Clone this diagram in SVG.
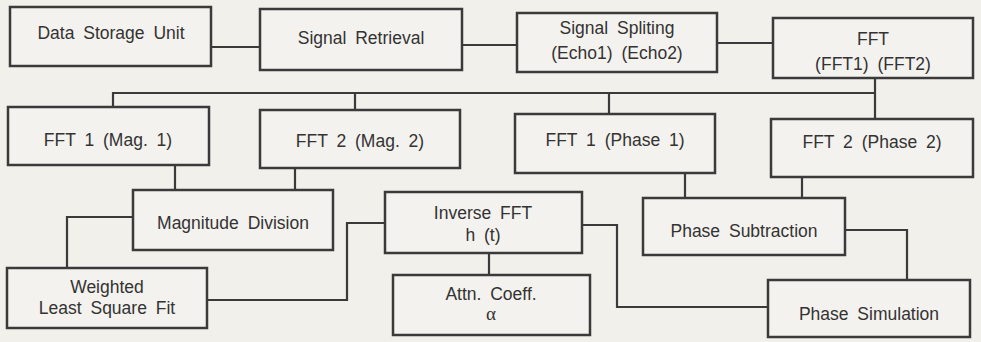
<svg xmlns="http://www.w3.org/2000/svg" width="981" height="342" viewBox="0 0 981 342">
<style>
.box{fill:#f4f2ee;stroke:#3a3a3a;stroke-width:2.5}
.c{fill:none;stroke:#3a3a3a;stroke-width:2.2}
text{font-family:"Liberation Sans",Arial,sans-serif;font-size:17.5px;fill:#333;text-anchor:middle;word-spacing:4px}
.a{font-family:"Liberation Serif","DejaVu Serif",serif;font-size:19px}
</style>
<rect width="981" height="342" fill="#f2f0eb"/>
<g id="connectors">
<path class="c" d="M211,47 H260"/>
<path class="c" d="M462,45 H517"/>
<path class="c" d="M717,43 H773"/>
<path class="c" d="M875,78 V119"/>
<path class="c" d="M113,107 V93 H875"/>
<path class="c" d="M355,93 V110"/>
<path class="c" d="M609,93 V114"/>
<path class="c" d="M175,165 V190"/>
<path class="c" d="M295,168 V192"/>
<path class="c" d="M685,173 V198"/>
<path class="c" d="M802,177 V198"/>
<path class="c" d="M133,217 H67 V268"/>
<path class="c" d="M207,300 H347 V223 H385"/>
<path class="c" d="M489,253 V275"/>
<path class="c" d="M582,225 H617 V307 H768"/>
<path class="c" d="M845,230 H907 V280"/>
</g>
<g id="dsu"><rect class="box" x="10" y="7" width="201" height="59"/><text x="111" y="39">Data Storage Unit</text></g>
<g id="sr"><rect class="box" x="260" y="9" width="202" height="61"/><text x="361" y="44">Signal Retrieval</text></g>
<g id="ss"><rect class="box" x="517" y="13" width="200" height="59"/><text x="617" y="34">Signal Spliting</text><text x="617" y="59">(Echo1) (Echo2)</text></g>
<g id="fft"><rect class="box" x="773" y="18" width="200" height="60"/><text x="873" y="45">FFT</text><text x="873" y="70">(FFT1) (FFT2)</text></g>
<g id="fft1mag"><rect class="box" x="8" y="107" width="201" height="58"/><text x="108" y="146">FFT 1 (Mag. 1)</text></g>
<g id="fft2mag"><rect class="box" x="260" y="110" width="200" height="58"/><text x="360" y="147">FFT 2 (Mag. 2)</text></g>
<g id="fft1ph"><rect class="box" x="515" y="114" width="200" height="59"/><text x="615" y="146">FFT 1 (Phase 1)</text></g>
<g id="fft2ph"><rect class="box" x="771" y="119" width="202" height="58"/><text x="872" y="148">FFT 2 (Phase 2)</text></g>
<g id="magdiv"><rect class="box" x="133" y="190" width="200" height="60"/><text x="233" y="229">Magnitude Division</text></g>
<g id="ifft"><rect class="box" x="385" y="192" width="197" height="61"/><text x="483" y="219">Inverse FFT</text><text x="483" y="241">h (t)</text></g>
<g id="phsub"><rect class="box" x="643" y="198" width="202" height="57"/><text x="744" y="237">Phase Subtraction</text></g>
<g id="wlsf"><rect class="box" x="7" y="268" width="200" height="60"/><text x="107" y="293">Weighted</text><text x="107" y="314">Least Square Fit</text></g>
<g id="attn"><rect class="box" x="393" y="275" width="197" height="60"/><text x="491" y="300">Attn. Coeff.</text><text class="a" x="491" y="320">α</text></g>
<g id="phsim"><rect class="box" x="768" y="280" width="202" height="57"/><text x="869" y="320">Phase Simulation</text></g>
</svg>
